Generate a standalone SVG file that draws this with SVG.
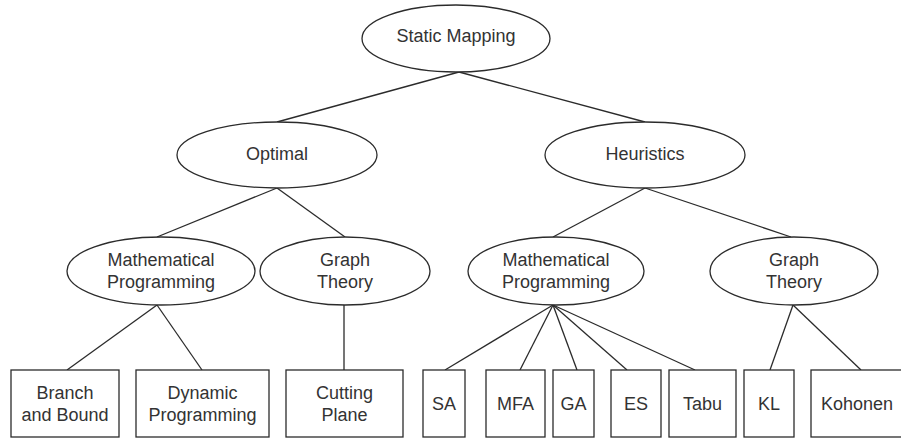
<svg xmlns="http://www.w3.org/2000/svg" width="901" height="439" viewBox="0 0 901 439">
  <style>
    .shape { fill: #ffffff; stroke: #2b2b2b; stroke-width: 1.3; }
    .edge { stroke: #2b2b2b; stroke-width: 1.3; fill: none; }
    text { font-family: "Liberation Sans", Arial, sans-serif; font-size: 18px; fill: #333333; text-anchor: middle; }
  </style>
  <rect x="0" y="0" width="901" height="439" fill="#ffffff"/>

  <!-- tree connectors -->
  <g id="connectors">
    <line class="edge" x1="459" y1="72" x2="277" y2="122"/>
    <line class="edge" x1="459" y1="72" x2="645" y2="122"/>
    <line class="edge" x1="277" y1="188" x2="157" y2="237"/>
    <line class="edge" x1="277" y1="188" x2="345" y2="237"/>
    <line class="edge" x1="645" y1="188" x2="553" y2="237"/>
    <line class="edge" x1="645" y1="188" x2="791" y2="237"/>
    <line class="edge" x1="157" y1="305" x2="67" y2="370"/>
    <line class="edge" x1="157" y1="305" x2="202" y2="370"/>
    <line class="edge" x1="344" y1="305" x2="344" y2="370"/>
    <line class="edge" x1="553" y1="305" x2="445" y2="370"/>
    <line class="edge" x1="553" y1="305" x2="520" y2="370"/>
    <line class="edge" x1="553" y1="305" x2="577" y2="370"/>
    <line class="edge" x1="553" y1="305" x2="627" y2="370"/>
    <line class="edge" x1="553" y1="305" x2="695" y2="370"/>
    <line class="edge" x1="793" y1="305" x2="770" y2="370"/>
    <line class="edge" x1="793" y1="305" x2="861" y2="370"/>
  </g>

  <!-- ellipse nodes -->
  <g id="static-mapping">
    <ellipse class="shape" cx="456" cy="38.5" rx="94" ry="33.5"/>
    <text x="456" y="42">Static Mapping</text>
  </g>
  <g id="optimal">
    <ellipse class="shape" cx="277" cy="155" rx="100" ry="33"/>
    <text x="277" y="160">Optimal</text>
  </g>
  <g id="heuristics">
    <ellipse class="shape" cx="645" cy="155" rx="100" ry="33"/>
    <text x="645" y="160">Heuristics</text>
  </g>
  <g id="opt-math-prog">
    <ellipse class="shape" cx="161" cy="271" rx="94" ry="34"/>
    <text x="161" y="266">Mathematical</text>
    <text x="161" y="288">Programming</text>
  </g>
  <g id="opt-graph-theory">
    <ellipse class="shape" cx="345" cy="271" rx="85" ry="34"/>
    <text x="345" y="266">Graph</text>
    <text x="345" y="288">Theory</text>
  </g>
  <g id="heu-math-prog">
    <ellipse class="shape" cx="556" cy="271" rx="88" ry="34"/>
    <text x="556" y="266">Mathematical</text>
    <text x="556" y="288">Programming</text>
  </g>
  <g id="heu-graph-theory">
    <ellipse class="shape" cx="794" cy="271" rx="84" ry="34"/>
    <text x="794" y="266">Graph</text>
    <text x="794" y="288">Theory</text>
  </g>

  <!-- leaf boxes -->
  <g id="branch-and-bound">
    <rect class="shape" x="11" y="370" width="108" height="67"/>
    <text x="65" y="399">Branch</text>
    <text x="65" y="421">and Bound</text>
  </g>
  <g id="dynamic-programming">
    <rect class="shape" x="136" y="370" width="133" height="67"/>
    <text x="202.5" y="399">Dynamic</text>
    <text x="202.5" y="421">Programming</text>
  </g>
  <g id="cutting-plane">
    <rect class="shape" x="286" y="370" width="117" height="67"/>
    <text x="344.5" y="399">Cutting</text>
    <text x="344.5" y="421">Plane</text>
  </g>
  <g id="sa">
    <rect class="shape" x="423" y="370" width="42" height="67"/>
    <text x="444" y="410">SA</text>
  </g>
  <g id="mfa">
    <rect class="shape" x="486" y="370" width="59" height="67"/>
    <text x="515.5" y="410">MFA</text>
  </g>
  <g id="ga">
    <rect class="shape" x="553" y="370" width="41" height="67"/>
    <text x="573.5" y="410">GA</text>
  </g>
  <g id="es">
    <rect class="shape" x="611" y="370" width="50" height="67"/>
    <text x="636" y="410">ES</text>
  </g>
  <g id="tabu">
    <rect class="shape" x="669" y="370" width="67" height="67"/>
    <text x="702.5" y="410">Tabu</text>
  </g>
  <g id="kl">
    <rect class="shape" x="744" y="370" width="50" height="67"/>
    <text x="769" y="410">KL</text>
  </g>
  <g id="kohonen">
    <rect class="shape" x="811" y="370" width="96" height="67"/>
    <text x="857" y="410">Kohonen</text>
  </g>
</svg>
